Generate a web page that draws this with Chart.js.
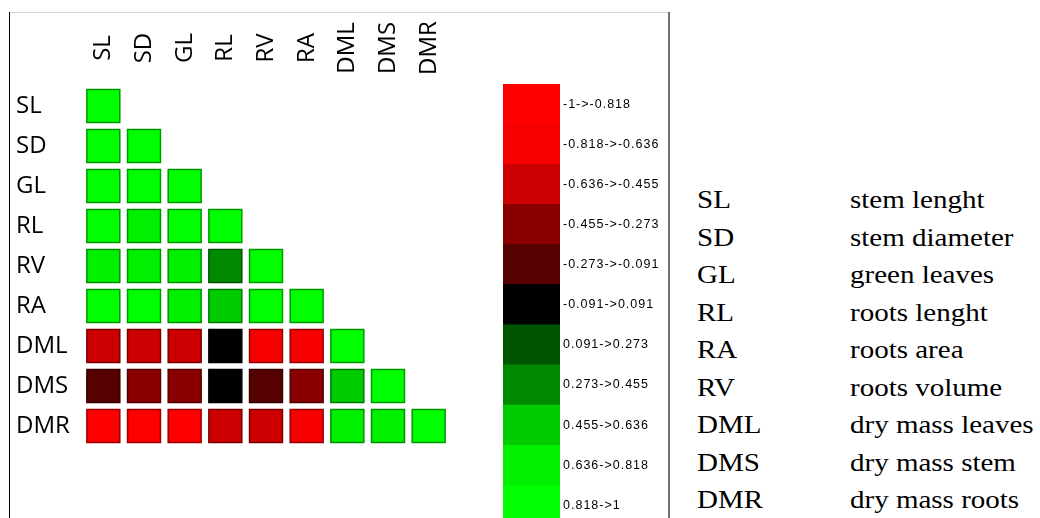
<!DOCTYPE html>
<html>
<head>
<meta charset="utf-8">
<script src="https://cdn.jsdelivr.net/npm/chart.js@4"></script>
<style>
  html, body { margin: 0; padding: 0; background: #fff; width: 1040px; height: 518px; overflow: hidden; }
  .frame { position: absolute; }
  .key { position: absolute; font-family: "Liberation Serif", "Times New Roman", serif; font-size: 25px; color: #000;
         line-height: 30px; white-space: nowrap; transform: scaleX(1.16); transform-origin: left center; }
</style>
</head>
<body>
<div class="frame" style="left:10px;top:12px;width:660px;height:1px;background:#d6d6d6"></div>
<div class="frame" style="left:9px;top:12px;width:1px;height:506px;background:#000"></div>
<div class="frame" style="left:668px;top:12px;width:2px;height:506px;background:#707070"></div>
<div style="position:absolute;left:0;top:0;width:490px;height:518px"><canvas id="matrix" width="490" height="518"></canvas></div>
<div style="position:absolute;left:490px;top:70px;width:170px;height:466px"><canvas id="scale2" width="170" height="466"></canvas></div>
<div id="keys"></div>
<script>
// Variables of the correlation matrix (rows and columns share the same order)
const variables = ['SL', 'SD', 'GL', 'RL', 'RV', 'RA', 'DML', 'DMS', 'DMR'];

// Lower-triangle correlation coefficients, one row per variable
const rowSL  = [1];
const rowSD  = [0.92, 1];
const rowGL  = [0.90, 0.88, 1];
const rowRL  = [0.85, 0.76, 0.84, 1];
const rowRV  = [0.79, 0.80, 0.78, 0.38, 1];
const rowRA  = [0.85, 0.83, 0.77, 0.55, 0.90, 1];
const rowDML = [-0.55, -0.56, -0.52, -0.02, -0.75, -0.77, 1];
const rowDMS = [-0.20, -0.35, -0.36, 0.01, -0.22, -0.34, 0.50, 1];
const rowDMR = [-0.85, -0.86, -0.84, -0.60, -0.58, -0.78, 0.72, 0.74, 1];
const corrRows = [rowSL, rowSD, rowGL, rowRL, rowRV, rowRA, rowDML, rowDMS, rowDMR];

// Colour classes of the scale
const binEdges  = [-1, -0.818, -0.636, -0.455, -0.273, -0.091, 0.091, 0.273, 0.455, 0.636, 0.818, 1];
const binLabels = ['-1->-0.818', '-0.818->-0.636', '-0.636->-0.455', '-0.455->-0.273', '-0.273->-0.091',
                   '-0.091->0.091', '0.091->0.273', '0.273->0.455', '0.455->0.636', '0.636->0.818', '0.818->1'];
const binColors = ['#ff0000', '#f60000', '#cc0000', '#8a0000', '#560000',
                   '#000000', '#005500', '#008a00', '#00cc00', '#00f000', '#00ff00'];

// Abbreviations explained on the right
const keyCodes = ['SL', 'SD', 'GL', 'RL', 'RA', 'RV', 'DML', 'DMS', 'DMR'];
const keyNames = ['stem lenght', 'stem diameter', 'green leaves', 'roots lenght', 'roots area',
                  'roots volume', 'dry mass leaves', 'dry mass stem', 'dry mass roots'];

function binIndex(v) {
  for (let i = 0; i < binEdges.length - 1; i++) {
    if (v <= binEdges[i + 1]) return i;
  }
  return binEdges.length - 2;
}
function darken(hex, f) {
  const n = parseInt(hex.slice(1), 16);
  const r = Math.round(((n >> 16) & 255) * f), g = Math.round(((n >> 8) & 255) * f), b = Math.round((n & 255) * f);
  return `rgb(${r},${g},${b})`;
}

const cells = [];
corrRows.forEach((row, r) => row.forEach((v, c) => cells.push({ x: variables[c], y: variables[r], v })));

// Rotated column headers, centred on each column
const columnHeaders = {
  id: 'columnHeaders',
  afterDraw(chart) {
    const xs = chart.scales.x, ctx = chart.ctx;
    ctx.save();
    ctx.font = '24px "Open Sans", sans-serif';
    ctx.fillStyle = '#000';
    ctx.textAlign = 'center';
    ctx.textBaseline = 'middle';
    variables.forEach((name, i) => {
      ctx.save();
      ctx.translate(xs.getPixelForTick(i), 48);
      ctx.rotate(-Math.PI / 2);
      ctx.fillText(name, 0, 0);
      ctx.restore();
    });
    ctx.restore();
  }
};

new Chart(document.getElementById('matrix'), {
  type: 'scatter',
  data: {
    datasets: [{
      data: cells,
      pointStyle: 'rect',
      pointRadius: 23.3,
      pointHoverRadius: 23.3,
      backgroundColor: cells.map(p => binColors[binIndex(p.v)]),
      borderColor: cells.map(p => darken(binColors[binIndex(p.v)], 0.6)),
      borderWidth: 1.5
    }]
  },
  options: {
    responsive: false,
    animation: false,
    events: [],
    layout: { padding: { left: 16, top: 0, right: 41, bottom: 72 } },
    plugins: { legend: { display: false }, tooltip: { enabled: false } },
    scales: {
      x: {
        type: 'category', labels: variables, position: 'top', offset: true,
        grid: { display: false }, border: { display: false },
        ticks: { display: false },
        afterFit: s => { s.height = 86; }
      },
      y: {
        type: 'category', labels: variables, offset: true,
        grid: { display: false, drawTicks: false }, border: { display: false },
        ticks: { font: { family: '"Open Sans", sans-serif', size: 24 }, color: '#000', crossAlign: 'far', autoSkip: false },
        afterFit: s => { s.width = 67; }
      }
    }
  },
  plugins: [columnHeaders]
});

// Spaced lettering for the class labels
const spacedTicks = {
  id: 'spacedTicks',
  beforeLayout(chart) { chart.ctx.letterSpacing = '1px'; },
  beforeDraw(chart) { chart.ctx.letterSpacing = '1px'; }
};

new Chart(document.getElementById('scale2'), {
  type: 'bar',
  data: {
    labels: binLabels,
    datasets: [{
      data: binLabels.map(() => 1),
      backgroundColor: binColors,
      borderWidth: 0,
      barPercentage: 1,
      categoryPercentage: 1
    }]
  },
  options: {
    indexAxis: 'y',
    responsive: false,
    animation: false,
    events: [],
    layout: { padding: { left: 13, top: 14, right: 0, bottom: 0 } },
    plugins: { legend: { display: false }, tooltip: { enabled: false } },
    scales: {
      x: { display: false, min: 0, max: 1 },
      y: {
        position: 'right',
        grid: { display: false, drawTicks: false }, border: { display: false },
        ticks: { font: { family: '"Liberation Sans", Arial, sans-serif', size: 12.5 }, color: '#000', padding: 3, autoSkip: false },
        afterFit: s => { s.width = 100; }
      }
    }
  },
  plugins: [spacedTicks]
});

// Key of abbreviations
const keys = document.getElementById('keys');
keyCodes.forEach((code, i) => {
  const y = 200 + i * 37.5 - 15;
  const a = document.createElement('div');
  a.className = 'key'; a.style.left = '697px'; a.style.top = y + 'px'; a.textContent = code;
  const b = document.createElement('div');
  b.className = 'key'; b.style.left = '850px'; b.style.top = y + 'px'; b.textContent = keyNames[i];
  keys.appendChild(a); keys.appendChild(b);
});
</script>
</body>
</html>
